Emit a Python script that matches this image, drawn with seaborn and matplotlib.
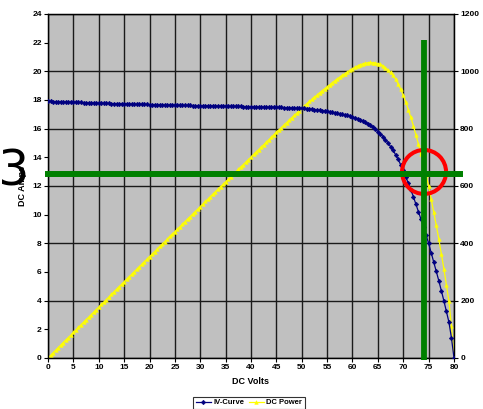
import matplotlib
matplotlib.use("Agg")
import matplotlib.pyplot as plt
from matplotlib.patches import Ellipse
import seaborn as sns
import pandas as pd

plt.rcParams['font.family'] = ['Liberation Sans', 'DejaVu Sans']

# voltage samples every 0.5 V from 0 to 80
volts = [i * 0.5 for i in range(161)]
amps = [17.90, 17.90, 17.89, 17.89, 17.88, 17.88, 17.87, 17.86, 17.86, 17.85,
        17.85, 17.84, 17.83, 17.83, 17.82, 17.81, 17.80, 17.80, 17.80, 17.79,
        17.78, 17.78, 17.77, 17.77, 17.76, 17.75, 17.75, 17.75, 17.75, 17.74,
        17.74, 17.73, 17.72, 17.71, 17.70, 17.70, 17.70, 17.70, 17.70, 17.69,
        17.68, 17.68, 17.67, 17.66, 17.66, 17.65, 17.65, 17.65, 17.65, 17.64,
        17.64, 17.63, 17.63, 17.62, 17.62, 17.62, 17.62, 17.61, 17.61, 17.60,
        17.60, 17.60, 17.60, 17.60, 17.60, 17.59, 17.58, 17.58, 17.58, 17.57,
        17.57, 17.56, 17.56, 17.55, 17.55, 17.55, 17.55, 17.54, 17.54, 17.53,
        17.53, 17.52, 17.52, 17.52, 17.52, 17.51, 17.51, 17.50, 17.50, 17.50,
        17.50, 17.49, 17.48, 17.47, 17.47, 17.46, 17.45, 17.44, 17.43, 17.43,
        17.42, 17.41, 17.40, 17.38, 17.35, 17.33, 17.30, 17.28, 17.25, 17.23,
        17.20, 17.18, 17.15, 17.12, 17.08, 17.04, 17.00, 16.96, 16.92, 16.87,
        16.82, 16.76, 16.70, 16.63, 16.55, 16.45, 16.35, 16.23, 16.10, 15.95,
        15.80, 15.63, 15.45, 15.23, 15.00, 14.75, 14.50, 14.18, 13.85, 13.48,
        13.10, 12.65, 12.20, 11.73, 11.25, 10.73, 10.20, 9.68, 9.15, 8.58,
        8.00, 7.35, 6.70, 6.05, 5.40, 4.70, 4.00, 3.25, 2.50, 1.40, 0.00]
watts = [0, 9, 18, 27, 36, 45, 54, 63, 71, 80,
         89, 98, 107, 116, 125, 134, 142, 151, 160, 169,
         178, 187, 195, 204, 213, 222, 231, 240, 249, 257,
         266, 275, 284, 292, 301, 310, 319, 327, 336, 345,
         354, 362, 371, 380, 389, 397, 406, 415, 424, 432,
         441, 450, 458, 467, 476, 485, 493, 502, 511, 519,
         528, 537, 546, 554, 563, 572, 580, 589, 598, 606,
         615, 623, 632, 641, 649, 658, 667, 675, 684, 692,
         701, 710, 718, 727, 736, 744, 753, 761, 770, 779,
         788, 796, 804, 813, 821, 830, 838, 846, 854, 863,
         871, 879, 887, 895, 902, 910, 917, 925, 932, 939,
         946, 953, 960, 967, 974, 980, 986, 992, 998, 1004,
         1009, 1014, 1019, 1023, 1026, 1028, 1030, 1031, 1030, 1029,
         1027, 1024, 1020, 1013, 1005, 996, 986, 972, 956, 937,
         917, 892, 866, 839, 810, 778, 745, 711, 677, 639,
         600, 555, 509, 463, 416, 364, 312, 255, 198, 111, 0]

x_ticks = list(range(0, 81, 5))
amp_ticks = list(range(0, 25, 2))
watt_ticks = list(range(0, 1201, 200))

marker_volts = 74.0
marker_amps = 12.84

df = pd.DataFrame({"DC Volts": volts, "DC Amps": amps, "DC Power": watts})

fig = plt.figure(figsize=(4.83, 4.09), dpi=100)
ax = fig.add_axes([48/483, 1-358/409, (454-48)/483, (358-14)/409])
ax2 = ax.twinx()

sns.lineplot(data=df, x="DC Volts", y="DC Amps", ax=ax, color='#000080',
             marker='D', markersize=2.3, markeredgewidth=0.4, markeredgecolor='#000080',
             linewidth=0.9, label='IV-Curve', legend=False, zorder=3)
sns.lineplot(data=df, x="DC Volts", y="DC Power", ax=ax2, color='#FFFF00',
             marker='^', markersize=2.6, markeredgewidth=0.4, markeredgecolor='#FFFF00',
             linewidth=0.9, label='DC Power', legend=False, zorder=3)

ax.set_xlim(0, 80)
ax.set_ylim(0, 24)
ax2.set_ylim(0, 1200)
ax.set_xticks(x_ticks)
ax.set_yticks(amp_ticks)
ax2.set_yticks(watt_ticks)
ax2.grid(False)

# grid drawn on the back axes so both curves sit above it
ax.set_zorder(ax2.get_zorder() + 1)
ax.patch.set_visible(False)
ax2.patch.set_visible(True)
ax2.patch.set_facecolor('#C0C0C0')
for xv in x_ticks:
    ax2.axvline(xv, color='#1a1a1a', linewidth=1.0, zorder=0.5)
for yv in watt_ticks:
    ax2.axhline(yv, color='#1a1a1a', linewidth=1.0, zorder=0.5)

for a in (ax, ax2):
    for s in a.spines.values():
        s.set_color('black')
        s.set_linewidth(0.9)

ax.tick_params(axis='both', labelsize=6, length=3, width=0.8, pad=1.5)
ax2.tick_params(axis='y', labelsize=6, length=3, width=0.8, pad=1.5)
for lab in ax.get_xticklabels() + ax.get_yticklabels() + ax2.get_yticklabels():
    lab.set_fontweight('bold')

ax.set_xlabel('DC Volts', fontsize=6.5, fontweight='bold', labelpad=4)
ax.set_ylabel('DC Amps', fontsize=6.5, fontweight='bold', labelpad=4)
ax2.set_ylabel('')
fig.text(488/483, 1-192/409, 'DC Watts', rotation=90, fontsize=6.5, fontweight='bold',
         ha='center', va='center')

# annotation lines and circle
ax.plot([-0.6, 81.8], [marker_amps, marker_amps], color='#008000', linewidth=4.3,
        clip_on=False, zorder=6, solid_capstyle='butt')
ax.plot([marker_volts, marker_volts], [-0.14, 22.2], color='#008000', linewidth=4.2,
        clip_on=False, zorder=6, solid_capstyle='butt')
ax.add_patch(Ellipse((74.1, 12.98), width=44/5.075, height=44/14.33, fill=False,
                     edgecolor='#FF0000', linewidth=2.9, zorder=5, clip_on=False))

fig.text(29/483, 1-171/409, 'P3', fontsize=35, family='DejaVu Sans',
         ha='right', va='center')

h1, l1 = ax.get_legend_handles_labels()
h2, l2 = ax2.get_legend_handles_labels()
leg = fig.legend(h1 + h2, l1 + l2, loc='upper center', bbox_to_anchor=(249/483, 1-393/409),
                 ncol=2, fontsize=5.5, frameon=True, fancybox=False, edgecolor='black',
                 borderpad=0.3, handlelength=2.0, columnspacing=0.6, handletextpad=0.3)
leg.get_frame().set_linewidth(0.8)
for t in leg.get_texts():
    t.set_fontweight('bold')

fig.savefig('out.png', dpi=100)
